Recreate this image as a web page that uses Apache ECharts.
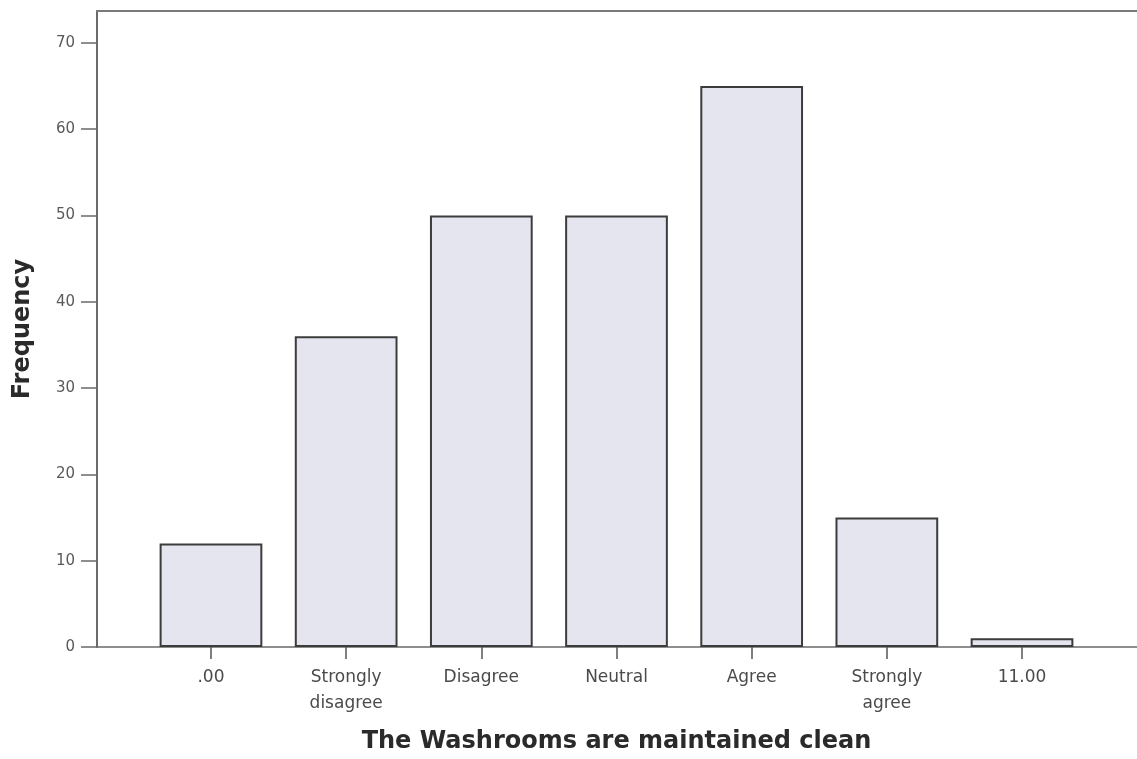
<!DOCTYPE html>
<html>
<head>
<meta charset="utf-8">
<script src="https://cdn.jsdelivr.net/npm/echarts@6/dist/echarts.min.js"></script>
<style>html,body{margin:0;padding:0;background:#fff;}#chart{width:1137px;height:759px;}</style>
</head>
<body>
<div id="chart"></div>
<script>
var categories = ['.00', 'Strongly\ndisagree', 'Disagree', 'Neutral', 'Agree', 'Strongly\nagree', '11.00'];
var frequency = [12, 36, 50, 50, 65, 15, 1];
var yTicks = [0, 10, 20, 30, 40, 50, 60, 70];
var yMax = 73.7;
var xTitle = 'The Washrooms are maintained clean';
var yTitle = 'Frequency';

var chart = echarts.init(document.getElementById('chart'), null, {renderer: 'canvas'});
var axisGray = '#6a6a6a';
chart.setOption({
  animation: false,
  backgroundColor: '#ffffff',
  grid: [
    {left: 97, right: -3, top: 11, bottom: 112},
    {left: 143.4, right: 47.4, top: 11, bottom: 112}
  ],
  xAxis: [
    {gridIndex: 0, type: 'value', min: 0, max: 1, position: 'bottom',
     axisLine: {show: true, onZero: false, lineStyle: {color: axisGray, width: 1.5}},
     axisTick: {show: false}, axisLabel: {show: false}, splitLine: {show: false}},
    {gridIndex: 0, type: 'value', min: 0, max: 1, position: 'top',
     axisLine: {show: true, onZero: false, lineStyle: {color: '#7a7a7a', width: 2}},
     axisTick: {show: false}, axisLabel: {show: false}, splitLine: {show: false}},
    {gridIndex: 1, type: 'category', data: categories, position: 'bottom',
     axisLine: {show: false},
     axisTick: {show: true, alignWithLabel: true, length: 12, lineStyle: {color: '#555', width: 1.5}},
     axisLabel: {color: '#4a4a4a', fontFamily: 'DejaVu Sans', fontSize: 17, margin: 18, lineHeight: 26, interval: 0},
     name: xTitle, nameLocation: 'middle', nameGap: 83,
     nameTextStyle: {color: '#2a2a2a', fontFamily: 'DejaVu Sans', fontWeight: 'bold', fontSize: 24}}
  ],
  yAxis: [
    {gridIndex: 0, type: 'value', min: 0, max: yMax, interval: 10,
     axisLine: {show: true, lineStyle: {color: axisGray, width: 2}},
     axisTick: {show: true, length: 16, lineStyle: {color: axisGray, width: 1.5},
       customValues: yTicks},
     axisLabel: {color: '#5a5a5a', fontFamily: 'DejaVu Sans', fontSize: 15, margin: 22,
       customValues: yTicks},
     splitLine: {show: false},
     name: yTitle, nameLocation: 'middle', nameGap: 62, nameRotate: 90,
     nameTextStyle: {color: '#2a2a2a', fontFamily: 'DejaVu Sans', fontWeight: 'bold', fontSize: 24}},
    {gridIndex: 1, type: 'value', min: 0, max: yMax, show: false}
  ],
  series: [{
    type: 'bar',
    xAxisIndex: 2,
    yAxisIndex: 1,
    data: frequency,
    barWidth: '76%',
    itemStyle: {color: '#e5e5ef', borderColor: '#3c3c3c', borderWidth: 2}
  }]
});
</script>
</body>
</html>
